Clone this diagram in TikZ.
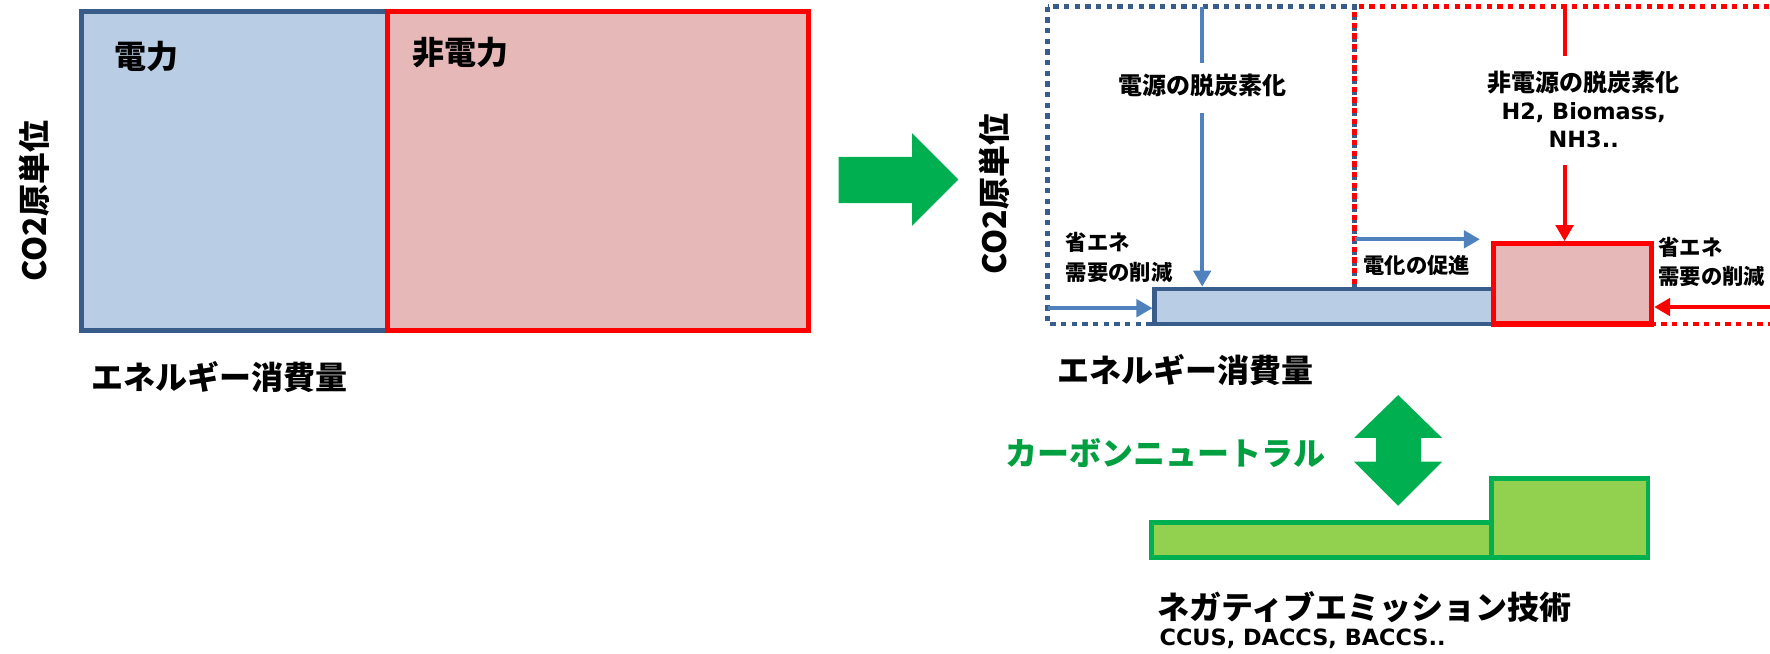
\documentclass[tikz,border=0pt]{standalone}
\usepackage{fontspec}
\setmainfont{Noto Sans CJK JP}
\newfontfamily\lat{DejaVu Sans}
\usetikzlibrary{arrows.meta}
\definecolor{bordblue}{HTML}{385D8A}
\definecolor{fillblue}{HTML}{B9CDE5}
\definecolor{fillred}{HTML}{E6B9B8}
\definecolor{arrblue}{HTML}{4F81BD}
\definecolor{grn}{HTML}{00B050}
\definecolor{lgrn}{HTML}{92D050}
\definecolor{txtgrn}{HTML}{00A040}
\definecolor{pured}{HTML}{FF0000}
\newlength{\myunit}\setlength{\myunit}{0.8466pt}
\tikzset{
  boxwh/.style 2 args={minimum width=#1*\myunit, minimum height=#2*\myunit},
  bluebox/.style={draw=bordblue, fill=fillblue, line width=3.5pt, inner sep=0pt},
  redbox/.style={draw=pured, fill=fillred, line width=4pt, inner sep=0pt},
  greenbox/.style={draw=grn, fill=lgrn, line width=3.5pt, inner sep=0pt},
  txt/.style={inner sep=0pt, font=\bfseries\fontsize{24}{28}\selectfont},
  txtmid/.style={inner sep=0pt, font=\bfseries\fontsize{18}{21.2}\selectfont},
  txtsmall/.style={inner sep=0pt, font=\bfseries\fontsize{16}{22}\selectfont},
  latfont/.style={font=\lat\bfseries\fontsize{16.8}{21.2}\selectfont},
  blueline/.style={draw=arrblue, line width=2.8pt},
  bluearr/.style={blueline, -{Triangle[length=12pt,width=13pt]}},
  redline/.style={draw=pured, line width=3pt},
  redarr/.style={redline, -{Triangle[length=12pt,width=13pt]}},
  dotblue/.style={draw=bordblue, line width=3.5pt, dash pattern=on 4pt off 4pt},
  dotred/.style={draw=pured, line width=3.5pt, dash pattern=on 4pt off 4pt, dash phase=4pt},
}
\begin{document}
\begin{tikzpicture}[x=\myunit, y=-\myunit]
\useasboundingbox (0,0) rectangle (1568,579);
\clip (0,0) rectangle (1568,579);

% ---------- left panel ----------
\node[bluebox, boxwh={271}{283}] (elecL) at (207.5,151.5) {};
\node[redbox, boxwh={373}{283}] (nonL) at (529.5,151.5) {};
\node[txt] (tElecL) at (130,50) {電力};
\node[txt] (tNonL) at (408,47) {非電力};
\node[txt, rotate=90] (yL) at (30,178) {CO2原単位};
\node[txt] (xL) at (194.5,334) {エネルギー消費量};

% ---------- big green arrow ----------
\fill[grn] (743,139) -- (808,139) -- (808,118) -- (849,159) -- (808,200) -- (808,180) -- (743,180) -- cycle;

% ---------- right panel ----------
\draw[dotblue] (928,6) rectangle (1200,287);
\draw[dotred] (1200,6) rectangle (1620,287);

\node[bluebox, boxwh={300}{31}] (supE) at (1173,271.5) {};
\node[redbox, boxwh={140}{71}] (supN) at (1393,251.5) {};

\node[txt, rotate=90] (yR) at (881,172) {CO2原単位};
\node[txt] (xR) at (1050.5,328) {エネルギー消費量};

% decarbonisation of power
\node[txtmid] (tDecE) at (1065,76) {電源の脱炭素化};
\coordinate (eTop) at (1065,6);
\coordinate (eA) at (1065,56);
\coordinate (eB) at (1065,100);
\draw[blueline] (eTop) -- (eA);
\draw[bluearr] (eB) -- (eB |- supE.north);

% decarbonisation of non-power
\node[txtmid, align=center] (tDecN) at (1403,97)
  {非電源の脱炭素化\\{\lat\bfseries\fontsize{16.8}{21.2}\selectfont H2, Biomass,}\\{\lat\bfseries\fontsize{16.8}{21.2}\selectfont NH3..}};
\coordinate (nTop) at (1386,6);
\coordinate (nA) at (1386,50);
\coordinate (nB) at (1386,146);
\draw[redline] (nTop) -- (nA);
\draw[redarr] (nB) -- (nB |- supN.north);

% electrification
\coordinate (elS) at (1200,212);
\coordinate (elE) at (1311,212);
\draw[bluearr] (elS) -- (elE);
\node[txtsmall] (tEl) at (1255,235) {電化の促進};

% energy savings
\node[txtsmall, align=left, anchor=west] (tSaveL) at (944,228) {省エネ\\需要の削減};
\coordinate (sL) at (928,273);
\draw[bluearr] (sL) -- (sL -| supE.west);
\node[txtsmall, align=left, anchor=west] (tSaveR) at (1469,232) {省エネ\\需要の削減};
\coordinate (sR) at (1568,272);
\draw[redarr] (sR) -- (sR -| supN.east);

% ---------- carbon neutral ----------
\fill[grn] (1238.6,350) -- (1277.5,388) -- (1259,388) -- (1259,409) -- (1277.5,409)
  -- (1238.6,448) -- (1199.5,409) -- (1219,409) -- (1219,388) -- (1199.5,388) -- cycle;
\node[txt, text=txtgrn] (tCN) at (1032.5,401) {カーボンニュートラル};

\node[greenbox, boxwh={301}{31}] (negA) at (1170.5,478.5) {};
\node[greenbox, boxwh={139}{70}] (negB) at (1390.5,459) {};
\node[txt, anchor=west] (tNeg) at (1025,537.5) {ネガティブエミッション技術};
\node[anchor=west, inner sep=0pt, latfont] (tNegL) at (1027,566) {CCUS, DACCS, BACCS..};
\end{tikzpicture}
\end{document}
